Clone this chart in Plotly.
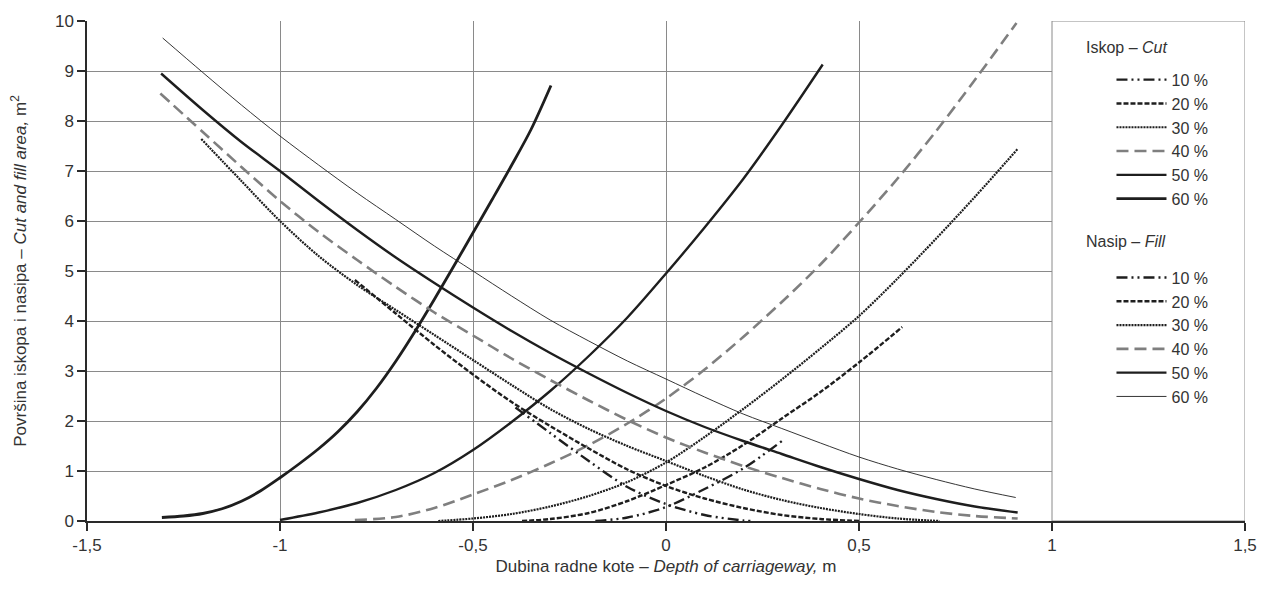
import plotly.graph_objects as go

# ---------------- data ----------------
# Iskop - Cut (rising curves)
cut10_x = [-0.183, -0.1, 0.0, 0.1, 0.2, 0.302]
cut10_y = [0.0, 0.07, 0.28, 0.64, 1.05, 1.61]
cut20_x = [-0.373, -0.3, -0.2, -0.1, 0.0, 0.1, 0.2, 0.3, 0.4, 0.5, 0.612]
cut20_y = [0.0, 0.04, 0.16, 0.4, 0.72, 1.07, 1.52, 2.05, 2.58, 3.17, 3.88]
cut30_x = [-0.59, -0.5, -0.4, -0.3, -0.2, -0.1, 0.0, 0.1, 0.2, 0.3, 0.4, 0.5, 0.6, 0.7, 0.8, 0.912]
cut30_y = [0.0, 0.05, 0.14, 0.29, 0.5, 0.78, 1.17, 1.68, 2.24, 2.83, 3.45, 4.1, 4.85, 5.65, 6.48, 7.45]
cut40_x = [-0.806, -0.7, -0.6, -0.5, -0.4, -0.3, -0.2, -0.1, 0.0, 0.1, 0.2, 0.3, 0.4, 0.5, 0.6, 0.7, 0.8, 0.908]
cut40_y = [0.02, 0.08, 0.26, 0.53, 0.82, 1.15, 1.52, 1.95, 2.45, 3.03, 3.68, 4.38, 5.13, 5.97, 6.85, 7.8, 8.82, 9.96]
cut50_x = [-1.0, -0.9, -0.8, -0.7, -0.6, -0.5, -0.4, -0.3, -0.2, -0.1, 0.0, 0.1, 0.2, 0.3, 0.406]
cut50_y = [0.02, 0.17, 0.36, 0.62, 0.96, 1.42, 1.98, 2.6, 3.3, 4.07, 4.95, 5.87, 6.84, 7.92, 9.13]
cut60_x = [-1.306, -1.25, -1.2, -1.15, -1.1, -1.05, -1.0, -0.95, -0.9, -0.85, -0.8, -0.75, -0.7,
           -0.65, -0.6, -0.55, -0.5, -0.45, -0.4, -0.35, -0.298]
cut60_y = [0.07, 0.10, 0.15, 0.245, 0.395, 0.605, 0.865, 1.145, 1.445, 1.785, 2.185, 2.655, 3.195,
           3.795, 4.435, 5.095, 5.765, 6.435, 7.115, 7.825, 8.71]

# Nasip - Fill (falling curves)
fill10_x = [-0.39, -0.3, -0.2, -0.1, 0.0, 0.1, 0.2, 0.22]
fill10_y = [2.27, 1.76, 1.2, 0.68, 0.34, 0.12, 0.01, 0.0]
fill20_x = [-0.806, -0.7, -0.6, -0.5, -0.4, -0.3, -0.2, -0.1, 0.0, 0.1, 0.2, 0.3, 0.4, 0.501]
fill20_y = [4.82, 4.15, 3.52, 2.93, 2.38, 1.9, 1.45, 1.03, 0.7, 0.45, 0.26, 0.12, 0.04, 0.0]
fill30_x = [-1.204, -1.1, -1.0, -0.9, -0.8, -0.7, -0.6, -0.5, -0.4, -0.3, -0.2, -0.1, 0.0, 0.1, 0.2, 0.3, 0.4, 0.5, 0.6, 0.709]
fill30_y = [7.64, 6.8, 6.0, 5.3, 4.72, 4.22, 3.72, 3.22, 2.72, 2.24, 1.84, 1.5, 1.2, 0.9, 0.63, 0.42, 0.26, 0.14, 0.05, 0.0]
fill40_x = [-1.31, -1.2, -1.1, -1.0, -0.9, -0.8, -0.7, -0.6, -0.5, -0.4, -0.3, -0.2, -0.1, 0.0, 0.1, 0.2, 0.3, 0.4, 0.5, 0.6, 0.7, 0.8, 0.911]
fill40_y = [8.55, 7.78, 7.08, 6.4, 5.78, 5.22, 4.68, 4.17, 3.71, 3.25, 2.82, 2.41, 2.02, 1.67, 1.37, 1.1, 0.86, 0.64, 0.45, 0.3, 0.18, 0.1, 0.05]
fill50_x = [-1.308, -1.2, -1.1, -1.0, -0.9, -0.8, -0.7, -0.6, -0.5, -0.4, -0.3, -0.2, -0.1, 0.0, 0.1, 0.2, 0.3, 0.4, 0.5, 0.6, 0.7, 0.8, 0.911]
fill50_y = [8.95, 8.22, 7.58, 7.0, 6.4, 5.82, 5.27, 4.76, 4.27, 3.8, 3.36, 2.95, 2.56, 2.2, 1.88, 1.6, 1.34, 1.08, 0.84, 0.62, 0.44, 0.29, 0.17]
fill60_x = [-1.304, -1.2, -1.1, -1.0, -0.9, -0.8, -0.7, -0.6, -0.5, -0.4, -0.3, -0.2, -0.1, 0.0, 0.1, 0.2, 0.3, 0.4, 0.5, 0.6, 0.7, 0.8, 0.906]
fill60_y = [9.66, 8.97, 8.32, 7.7, 7.12, 6.56, 6.03, 5.5, 5.0, 4.5, 4.02, 3.6, 3.2, 2.84, 2.48, 2.14, 1.85, 1.56, 1.28, 1.04, 0.83, 0.64, 0.47]

series_labels = ["10 %", "20 %", "30 %", "40 %", "50 %", "60 %"]
group_titles = ["Iskop – <i>Cut</i>", "Nasip – <i>Fill</i>"]
x_tickvals = [-1.5, -1.0, -0.5, 0.0, 0.5, 1.0, 1.5]
x_ticktext = ["-1,5", "-1", "-0,5", "0", "0,5", "1", "1,5"]
y_tickvals = [0, 1, 2, 3, 4, 5, 6, 7, 8, 9, 10]

cut_series = [(cut10_x, cut10_y), (cut20_x, cut20_y), (cut30_x, cut30_y),
              (cut40_x, cut40_y), (cut50_x, cut50_y), (cut60_x, cut60_y)]
fill_series = [(fill10_x, fill10_y), (fill20_x, fill20_y), (fill30_x, fill30_y),
               (fill40_x, fill40_y), (fill50_x, fill50_y), (fill60_x, fill60_y)]

# ---------------- styles ----------------
DARK = "#1e1e1e"
GREY = "#7f7f7f"
styles = [
    dict(color=DARK, width=2.4, dash="11px,4px,2px,4px,2px,4px"),
    dict(color=DARK, width=2.4, dash="5px,2px"),
    dict(color=DARK, width=2.2, dash="2px,1px"),
    dict(color=GREY, width=2.6, dash="12px,6px"),
    dict(color=DARK, width=2.4),
    dict(color=DARK, width=2.8),
]
fill_styles = [dict(s) for s in styles]
fill_styles[5] = dict(color=DARK, width=0.9)

FONT = "Liberation Sans, Arial, sans-serif"
TXT = "#333333"

fig = go.Figure()
for (xs, ys), lab, st in zip(cut_series, series_labels, styles):
    fig.add_trace(go.Scatter(x=xs, y=ys, mode="lines", name=lab, legendgroup="cut",
                             line=dict(shape="spline", smoothing=0.9, **st)))
for (xs, ys), lab, st in zip(fill_series, series_labels, fill_styles):
    fig.add_trace(go.Scatter(x=xs, y=ys, mode="lines", name=lab, legendgroup="fill",
                             line=dict(shape="spline", smoothing=0.9, **st)))

# white legend panel covering the right part of the plot (x from 1 to 1.5)
fig.add_shape(type="rect", xref="x", yref="y", x0=1, x1=1.5, y0=0, y1=10,
              fillcolor="white", line=dict(color="#8a8a8a", width=1), layer="between")

# legend group titles
for txt, ypos in zip(group_titles, [0.9463, 0.5586]):
    fig.add_annotation(text=txt, xref="paper", yref="paper", x=0.8606, y=ypos,
                       xanchor="left", yanchor="middle", showarrow=False,
                       font=dict(family=FONT, size=16, color=TXT))

fig.update_layout(
    width=1269, height=602,
    margin=dict(l=87, r=20, t=18, b=81),
    paper_bgcolor="white", plot_bgcolor="white",
    font=dict(family=FONT, size=17, color=TXT),
    showlegend=True,
    legend=dict(
        x=0.8847, y=0.9165, xanchor="left", yanchor="top",
        bgcolor="rgba(0,0,0,0)", borderwidth=0,
        font=dict(family=FONT, size=16, color=TXT),
        traceorder="grouped", tracegroupgap=55,
        itemwidth=50,
    ),
    xaxis=dict(
        range=[-1.5, 1.5], tickmode="array", tickvals=x_tickvals, ticktext=x_ticktext,
        showgrid=True, gridcolor="#8a8a8a", gridwidth=1,
        zeroline=False,
        showline=True, linecolor="#2a2a2a", linewidth=1.5,
        ticks="outside", ticklen=8, tickcolor="#2a2a2a", tickwidth=1.5,
        tickfont=dict(family=FONT, size=17, color=TXT),
        title=dict(text="Dubina radne kote – <i>Depth of carriageway,</i> m",
                   font=dict(family=FONT, size=17, color=TXT), standoff=6),
    ),
    yaxis=dict(
        range=[0, 10], tickmode="array", tickvals=y_tickvals,
        showgrid=True, gridcolor="#8a8a8a", gridwidth=1,
        zeroline=False,
        showline=True, linecolor="#2a2a2a", linewidth=1.5,
        ticks="outside", ticklen=8, tickcolor="#2a2a2a", tickwidth=1.5,
        tickfont=dict(family=FONT, size=17, color=TXT),
        title=dict(text="Površina iskopa i nasipa – <i>Cut and fill area,</i> m<sup>2</sup>",
                   font=dict(family=FONT, size=17, color=TXT), standoff=24),
    ),
)

fig.write_html("out.html")
